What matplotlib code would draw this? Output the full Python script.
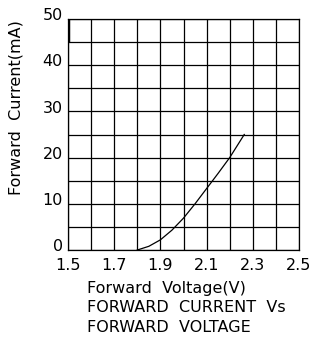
import numpy as np
import matplotlib
matplotlib.use("Agg")
import matplotlib.pyplot as plt

# forward voltage (V) vs forward current (mA)
voltage = [1.80, 1.85, 1.90, 1.95, 2.00, 2.05, 2.10, 2.15, 2.20, 2.263]
current = [0.0, 0.8, 2.2, 4.3, 6.9, 10.0, 13.3, 16.6, 20.0, 25.0]

xticks = [1.5, 1.7, 1.9, 2.1, 2.3, 2.5]
yticks = [0, 10, 20, 30, 40, 50]

plt.rcParams['font.family'] = ['DejaVu Sans']

fig = plt.figure(figsize=(3.15, 3.39), dpi=100)
ax = fig.add_axes([68/315, 1 - 250/339, 231/315, 231/339])

ax.set_xlim(1.5, 2.5)
ax.set_ylim(0, 50)

# grid every 0.1 V and 5 mA
for gx in np.arange(1.5, 2.501, 0.1):
    ax.axvline(gx, color='black', lw=0.9)
for gy in np.arange(0, 50.1, 5):
    ax.axhline(gy, color='black', lw=0.9)
ax.plot([1.5, 1.5], [45, 50], color='black', lw=2.5, solid_capstyle='butt')

ax.plot(voltage, current, color='black', lw=0.9)

for s in ax.spines.values():
    s.set_linewidth(0.9)
ax.set_xticks([])
ax.set_yticks([])

fs = 11.5
for t in xticks:
    ax.text(t, -1.7, f"{t:.1f}", ha='center', va='top', fontsize=fs)
for t in yticks:
    ax.text(1.478, t + 0.7, f"{t}", ha='right', va='center', fontsize=fs)

fig.text(16/315, 1 - 108/339, "Forward  Current(mA)", rotation=90,
         ha='center', va='center', fontsize=fs)
fig.text(87/315, 1 - 289/339, "Forward  Voltage(V)", ha='left',
         va='center', fontsize=fs)
fig.text(87/315, 1 - 308/339, "FORWARD  CURRENT  Vs", ha='left',
         va='center', fontsize=fs)
fig.text(87/315, 1 - 328/339, "FORWARD  VOLTAGE", ha='left',
         va='center', fontsize=fs)

fig.savefig("out.png", dpi=100)
